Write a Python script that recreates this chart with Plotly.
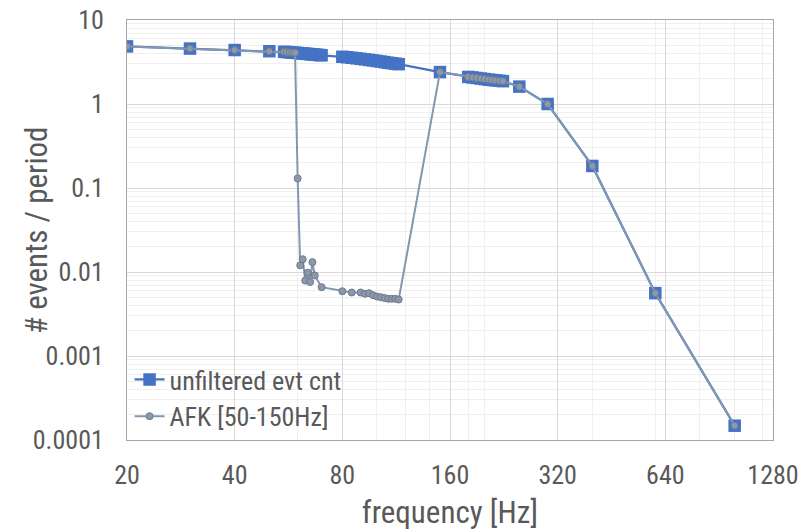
import plotly.graph_objects as go

# Event count per period versus stimulus frequency
unfilt_freq = [20, 30, 40, 50,
               55, 56, 57, 58, 59, 60, 61, 62, 63, 64, 65, 66, 67, 68, 69, 70,
               80, 82.5, 85, 87.5, 90, 92.5, 95, 97.5, 100, 102.5, 105, 107.5, 110, 112.5, 115,
               150,
               180, 185, 190, 195, 200, 205, 210, 215, 220, 225,
               250, 300, 400, 600, 1000]
unfilt_cnt = [4.85, 4.57, 4.39, 4.25,
              4.18, 4.15, 4.13, 4.10, 4.08, 4.05, 4.02, 4.00, 3.97, 3.95, 3.92, 3.90, 3.87, 3.85, 3.83, 3.80,
              3.65, 3.60, 3.55, 3.50, 3.45, 3.40, 3.35, 3.30, 3.25, 3.20, 3.15, 3.10, 3.06, 3.02, 2.98,
              2.40,
              2.10, 2.07, 2.04, 2.01, 1.98, 1.95, 1.93, 1.91, 1.89, 1.87,
              1.61, 1.00, 0.183, 0.0056, 0.000148]

afk_freq = [20, 30, 40, 50,
            55, 56, 57, 58, 59,
            60, 61, 62, 63, 64, 65, 66, 67, 70,
            80, 85, 90, 92.5, 95, 97.5, 100, 102.5, 105, 107.5, 110, 112.5, 115,
            150,
            180, 185, 190, 195, 200, 205, 210, 215, 220, 225,
            250, 300, 400, 600, 1000]
afk_cnt = [4.85, 4.57, 4.39, 4.25,
           4.18, 4.15, 4.13, 4.10, 4.08,
           0.13, 0.012, 0.0142, 0.0079, 0.0098, 0.0076, 0.0131, 0.0091, 0.0066,
           0.0059, 0.0057, 0.0057, 0.0055, 0.0056, 0.0053, 0.0051, 0.0050, 0.0049, 0.0048, 0.0048, 0.0048, 0.0047,
           2.40,
           2.10, 2.07, 2.04, 2.01, 1.98, 1.95, 1.93, 1.91, 1.89, 1.87,
           1.61, 1.00, 0.183, 0.0056, 0.000148]

x_ticks = [20, 40, 80, 160, 320, 640, 1280]
x_minor = [60, 100, 120, 140, 180, 200, 400, 600, 800, 1000, 1200]
y_ticks = [0.0001, 0.001, 0.01, 0.1, 1, 10]
y_tick_text = ["0.0001", "0.001", "0.01", "0.1", "1", "10"]
y_minor = [m * 10.0 ** e for e in range(-4, 1) for m in range(2, 10)]

FONT = "Liberation Sans Narrow, Arial Narrow, Roboto Condensed, Liberation Sans, sans-serif"
TXT = "#595959"

fig = go.Figure()
fig.add_trace(go.Scatter(
    x=unfilt_freq, y=unfilt_cnt, name="unfiltered evt cnt",
    mode="lines+markers",
    line=dict(color="#4472C4", width=2.25),
    marker=dict(symbol="square", size=12.5, color="#4472C4", line=dict(width=0)),
))
fig.add_trace(go.Scatter(
    x=afk_freq, y=afk_cnt, name="AFK [50-150Hz]",
    mode="lines+markers",
    line=dict(color="#8497B0", width=2),
    marker=dict(symbol="circle", size=7, color="#8C99AC",
                line=dict(color="#6E7A8C", width=1)),
))

# y-axis title placed close to the tick labels
fig.add_annotation(
    text="# events / period", textangle=-90,
    xref="paper", yref="paper", x=-0.141, y=0.5,
    xanchor="center", yanchor="middle", showarrow=False,
    font=dict(size=31, color=TXT, family=FONT),
)

fig.update_layout(
    width=801, height=532,
    margin=dict(l=127, r=28, t=20, b=92),
    paper_bgcolor="white", plot_bgcolor="white",
    font=dict(family=FONT, color=TXT, size=26),
    showlegend=True,
    legend=dict(x=0.004, y=0.2, xanchor="left", yanchor="top",
                bgcolor="rgba(0,0,0,0)", font=dict(size=26, color=TXT),
                itemwidth=30, tracegroupgap=0),
)
fig.update_xaxes(
    type="log", range=[1.30103, 3.10721], automargin=False,
    tickmode="array", tickvals=x_ticks, ticktext=[str(v) for v in x_ticks],
    tickfont=dict(size=26, color=TXT), ticklabelstandoff=12,
    showgrid=True, gridcolor="#d9d9d9", gridwidth=1,
    minor=dict(tickmode="array", tickvals=x_minor, showgrid=True,
               gridcolor="#efefef", gridwidth=1),
    showline=True, linecolor="#a6a6a6", linewidth=1, mirror=True,
    zeroline=False,
    title=dict(text="frequency [Hz]", font=dict(size=31, color=TXT), standoff=12),
)
fig.update_yaxes(
    type="log", range=[-4, 1], automargin=False,
    tickmode="array", tickvals=y_ticks, ticktext=y_tick_text,
    tickfont=dict(size=26, color=TXT), ticklabelstandoff=17,
    showgrid=True, gridcolor="#d9d9d9", gridwidth=1,
    minor=dict(tickmode="array", tickvals=y_minor, showgrid=True,
               gridcolor="#efefef", gridwidth=1),
    showline=True, linecolor="#a6a6a6", linewidth=1, mirror=True,
    zeroline=False,
)

fig.write_html("out.html")
